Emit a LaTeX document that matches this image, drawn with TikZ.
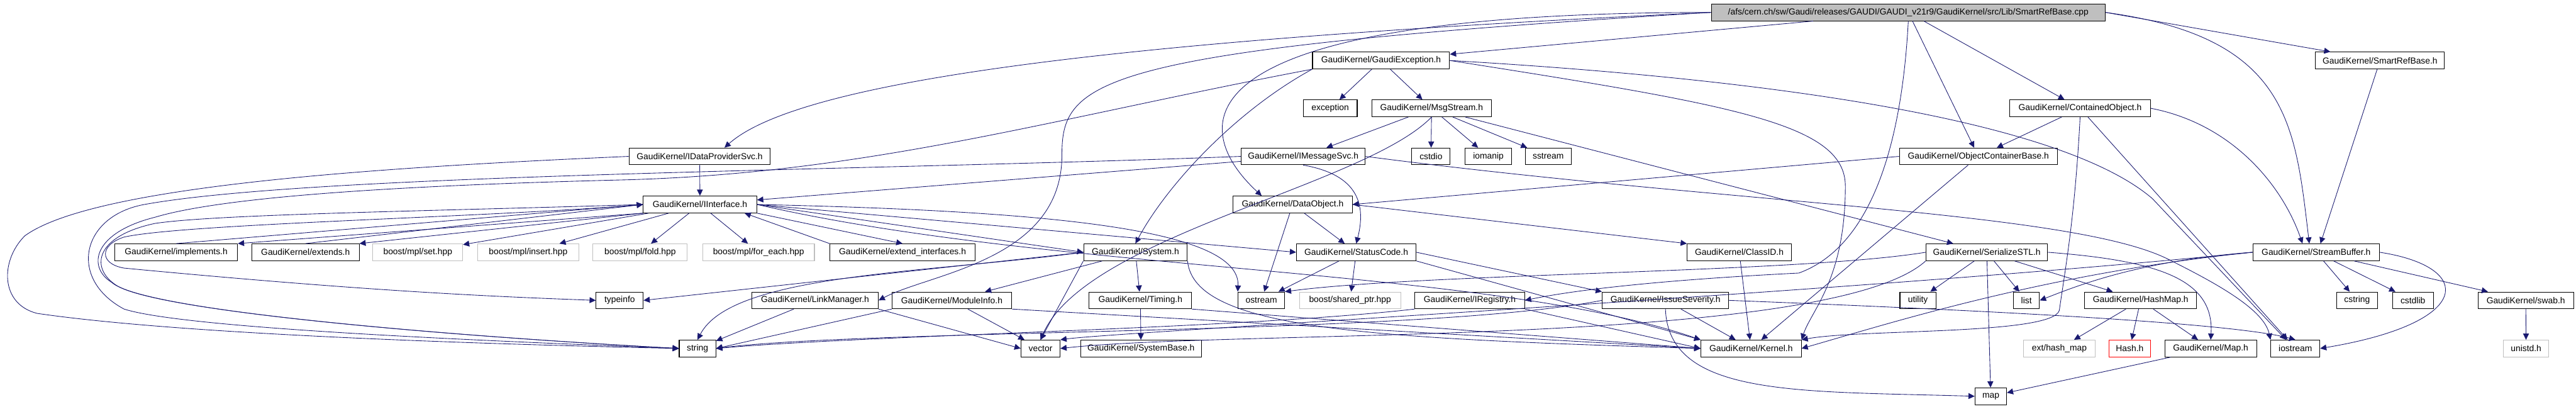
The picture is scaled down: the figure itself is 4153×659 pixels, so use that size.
\documentclass[tikz,border=0pt]{standalone}
\usepackage{fontspec}
\setmainfont{Liberation Sans}
\usetikzlibrary{arrows.meta}

\definecolor{edgeblue}{RGB}{25,25,112}
\definecolor{boxgray}{RGB}{191,191,191}

\tikzset{
  hdr/.style={draw=black, line width=0.6pt, rectangle, inner sep=0pt,
    minimum height=0.54cm, font=\fontsize{8}{9}\selectfont},
  syshdr/.style={hdr, draw=boxgray},
  lost/.style={hdr, draw=red},
  srcfile/.style={hdr, fill=boxgray},
  dep/.style={draw=edgeblue, line width=0.5pt, -{Triangle[length=0.2cm,width=0.19cm]}}
}

\begin{document}
\begin{tikzpicture}[x=0.02cm, y=-0.02cm]
\useasboundingbox (0,0) rectangle (4153,659);

% row 0 and 1
\node[srcfile, minimum width=12.70cm] (root) at (3076.5,20) {/afs/cern.ch/sw/Gaudi/releases/GAUDI/GAUDI\_v21r9/GaudiKernel/src/Lib/SmartRefBase.cpp};
\node[hdr, minimum width=4.42cm] (gexc) at (2226.5,97.5) {GaudiKernel/GaudiException.h};
\node[hdr, minimum width=4.16cm] (srbh) at (3837,97.5) {GaudiKernel/SmartRefBase.h};

% row 2
\node[hdr, minimum width=1.74cm] (exception) at (2144.5,174.5) {exception};
\node[hdr, minimum width=3.84cm] (msgs) at (2308,174.5) {GaudiKernel/MsgStream.h};
\node[hdr, minimum width=4.54cm] (cobj) at (3353.5,174.5) {GaudiKernel/ContainedObject.h};

% row 3
\node[hdr, minimum width=4.56cm] (idps) at (1128,252) {GaudiKernel/IDataProviderSvc.h};
\node[hdr, minimum width=4.00cm] (imsg) at (2101,252) {GaudiKernel/IMessageSvc.h};
\node[hdr, minimum width=1.24cm] (cstdio) at (2307,252) {cstdio};
\node[hdr, minimum width=1.50cm] (iomanip) at (2399.5,252) {iomanip};
\node[hdr, minimum width=1.48cm] (sstream) at (2496,252) {sstream};
\node[hdr, minimum width=5.10cm] (ocb) at (3189.5,252) {GaudiKernel/ObjectContainerBase.h};

% row 4
\node[hdr, minimum width=3.66cm] (iif) at (1128.5,329.5) {GaudiKernel/IInterface.h};
\node[hdr, minimum width=3.84cm] (dobj) at (2084,329.5) {GaudiKernel/DataObject.h};

% row 5
\node[hdr, minimum width=3.96cm] (impl) at (284,406.5) {GaudiKernel/implements.h};
\node[hdr, minimum width=3.46cm] (ext) at (492.5,406.5) {GaudiKernel/extends.h};
\node[syshdr, minimum width=2.90cm] (mset) at (673.5,406.5) {boost/mpl/set.hpp};
\node[syshdr, minimum width=3.26cm] (mins) at (851.5,406.5) {boost/mpl/insert.hpp};
\node[syshdr, minimum width=3.04cm] (mfold) at (1032,406.5) {boost/mpl/fold.hpp};
\node[syshdr, minimum width=3.60cm] (mfe) at (1223,406.5) {boost/mpl/for\_each.hpp};
\node[hdr, minimum width=4.68cm] (extif) at (1455,406.5) {GaudiKernel/extend\_interfaces.h};
\node[hdr, minimum width=3.34cm] (sys) at (1830.5,406.5) {GaudiKernel/System.h};
\node[hdr, minimum width=3.86cm] (sc) at (2186.5,406.5) {GaudiKernel/StatusCode.h};
\node[hdr, minimum width=3.36cm] (cid) at (2804,406.5) {GaudiKernel/ClassID.h};
\node[hdr, minimum width=3.92cm] (sstl) at (3203,406.5) {GaudiKernel/SerializeSTL.h};
\node[hdr, minimum width=4.08cm] (sbuf) at (3734,406.5) {GaudiKernel/StreamBuffer.h};

% row 6
\node[hdr, minimum width=1.52cm] (tinfo) at (999,484) {typeinfo};
\node[hdr, minimum width=4.08cm] (lnk) at (1314,484) {GaudiKernel/LinkManager.h};
\node[hdr, minimum width=3.86cm] (minfo) at (1534.5,484) {GaudiKernel/ModuleInfo.h};
\node[hdr, minimum width=3.30cm] (timing) at (1838.5,484) {GaudiKernel/Timing.h};
\node[hdr, minimum width=1.50cm] (ostr) at (2033.5,484) {ostream};
\node[syshdr, minimum width=3.26cm] (shp) at (2176.5,484) {boost/shared\_ptr.hpp};
\node[hdr, minimum width=3.54cm] (ireg) at (2369.5,484) {GaudiKernel/IRegistry.h};
\node[hdr, minimum width=4.08cm] (isev) at (2685,484) {GaudiKernel/IssueSeverity.h};
\node[hdr, minimum width=1.16cm] (util) at (3092,484) {utility};
\node[hdr, minimum width=0.84cm] (lst) at (3267,484) {list};
\node[hdr, minimum width=3.60cm] (hmap) at (3451,484) {GaudiKernel/HashMap.h};
\node[hdr, minimum width=1.32cm] (cstr) at (3800,484) {cstring};
\node[hdr, minimum width=1.32cm] (cstdl) at (3890,484) {cstdlib};
\node[hdr, minimum width=3.08cm] (swab) at (4072,484) {GaudiKernel/swab.h};

% row 7 and 8
\node[hdr, minimum width=1.18cm] (str) at (1124.5,561.5) {string};
\node[hdr, minimum width=1.26cm] (vec) at (1677.5,561.5) {vector};
\node[hdr, minimum width=3.90cm] (sysb) at (1839.5,561.5) {GaudiKernel/SystemBase.h};
\node[hdr, minimum width=3.24cm] (kern) at (2823,561.5) {GaudiKernel/Kernel.h};
\node[syshdr, minimum width=2.32cm] (hmext) at (3320,561.5) {ext/hash\_map};
\node[lost, minimum width=1.34cm] (hash) at (3433.5,561.5) {Hash.h};
\node[hdr, minimum width=2.96cm] (mapg) at (3564,561.5) {GaudiKernel/Map.h};
\node[hdr, minimum width=1.58cm] (iostr) at (3700.5,561.5) {iostream};
\node[syshdr, minimum width=1.46cm] (unistd) at (4072.5,561.5) {unistd.h};
\node[hdr, minimum width=1.02cm] (mapc) at (3209.5,638.5) {map};

% the source file
\draw[dep] (root) -- (gexc);
\draw[dep] (root.west) .. controls (1900,60) and (1300,120) .. ([xshift=0.8cm]idps.north);
\draw[dep] (root.west) .. controls (1850,20) and (1930,220) .. ([xshift=-1cm]dobj.north);
\draw[dep] (root.west) .. controls (1760,80) and (1712,130) .. (1712,250)
  .. controls (1712,420) and (1500,440) .. (lnk.east);
\draw[dep] (root) -- (ocb);
\draw[dep] (root) -- (cobj);
\draw[dep] (root.south) .. controls (3065,250) and (3010,400) .. (2900,440)
  .. controls (2700,450) and (2550,465) .. (ireg.east);
\draw[dep] (root.east) -- (srbh);
\draw[dep] (root.east) .. controls (3690,60) and (3700,200) .. ([xshift=-0.22cm]sbuf.north);

% GaudiException.h
\draw[dep] (gexc) -- (exception);
\draw[dep] (gexc) -- (msgs);
\draw[dep] (gexc.south west) .. controls (1990,180) and (1880,300) .. (sys.north);
\draw[dep] (gexc.south west) .. controls (1700,190) and (1400,280) .. (1000,290)
  .. controls (600,300) and (350,320) .. (250,350)
  .. controls (150,375) and (140,430) .. (180,455)
  .. controls (230,500) and (700,540) .. (str.west);
\draw[dep] (gexc.east) .. controls (2800,170) and (2975,200) .. (2975,300)
  .. controls (2975,450) and (2920,500) .. (kern.north east);
\draw[dep] (gexc.east) .. controls (2900,130) and (3330,200) .. (3470,320)
  -- ([xshift=-0.3cm]iostr.north);

% MsgStream.h and IMessageSvc.h
\draw[dep] (msgs) -- (imsg);
\draw[dep] (msgs) -- (cstdio);
\draw[dep] (msgs) -- (iomanip);
\draw[dep] (msgs) -- (sstream);
\draw[dep] (msgs) -- (sstl);
\draw[dep] (msgs.south) .. controls (2200,300) and (1750,380) .. (vec.north);
\draw[dep] (imsg) -- (iif);
\draw[dep] (imsg.south) .. controls (2180,280) and (2205,320) .. (sc.north);
\draw[dep] (imsg.west) .. controls (1400,275) and (500,280) .. (230,330)
  .. controls (130,350) and (110,450) .. (200,498)
  .. controls (300,530) and (800,550) .. (str.west);
\draw[dep] (imsg.east) .. controls (2800,330) and (3350,340) .. (3500,420)
  .. controls (3580,460) and (3650,500) .. (iostr.north west);

% IDataProviderSvc.h
\draw[dep] (idps) -- (iif);
\draw[dep] (idps.west) .. controls (600,270) and (150,300) .. (40,380)
  .. controls (0,420) and (0,490) .. (60,505)
  .. controls (300,540) and (800,555) .. (str.west);

% IInterface.h
\draw[dep] (iif.south west) -- (impl.north east);
\draw[dep] (impl.north) -- (iif.west);
\draw[dep] (iif.south west) -- (ext.north east);
\draw[dep] (ext.north) -- (iif.west);
\draw[dep] (iif) -- (mset);
\draw[dep] (iif) -- (mins);
\draw[dep] (iif) -- (mfold);
\draw[dep] (iif) -- (mfe);
\draw[dep] (iif.south east) -- (extif.north);
\draw[dep] (extif.north west) -- ([xshift=-0.4cm]iif.south east);
\draw[dep] (iif.east) -- (sys.west);
\draw[dep] (iif.east) -- (sc.west);
\draw[dep] (iif.east) .. controls (1700,340) and (2000,370) .. (ostr.north west);
\draw[dep] (iif.east) .. controls (1700,440) and (2400,430) .. (kern.north west);
\draw[dep] (iif.west) .. controls (700,340) and (350,345) .. (250,360)
  .. controls (155,380) and (145,430) .. (185,458)
  .. controls (240,500) and (700,540) .. (str.west);
\draw[dep] (iif.west) .. controls (800,350) and (300,360) .. (200,382)
  .. controls (160,395) and (160,425) .. (200,432)
  .. controls (600,470) and (800,478) .. (tinfo.west);

% DataObject.h and StatusCode.h
\draw[dep] (dobj.east) -- (cid.north west);
\draw[dep] (dobj) -- (sc);
\draw[dep] (dobj) -- (ostr);
\draw[dep] (sc) -- (shp);
\draw[dep] (sc.east) -- (isev.north west);
\draw[dep] (sc) -- (ostr);
\draw[dep] (sc.south east) -- (kern.north west);

% System.h and its friends
\draw[dep] (sys) -- (minfo);
\draw[dep] (sys) -- (timing);
\draw[dep] (sys.south west) -- (vec.north);
\draw[dep] (sys.south east) .. controls (1925,530) and (2200,545) .. (kern.west);
\draw[dep] (sys.west) .. controls (1500,440) and (1180,440) .. (str.north);
\draw[dep] (sys.west) -- (tinfo.east);
\draw[dep] (minfo) -- (vec);
\draw[dep] (minfo.south east) -- (kern.west);
\draw[dep] (minfo.south west) -- (str.east);
\draw[dep] (lnk) -- (str);
\draw[dep] (lnk.south east) -- (vec.west);
\draw[dep] (timing) -- (sysb);
\draw[dep] (timing.south east) -- (kern.west);

% IssueSeverity.h, IRegistry.h, ClassID.h
\draw[dep] (isev) -- (kern);
\draw[dep] (isev.south) .. controls (2690,640) and (2900,630) .. (mapc.west);
\draw[dep] (isev.east) .. controls (3200,500) and (3600,520) .. (iostr.north);
\draw[dep] (isev.west) .. controls (2300,540) and (1400,530) .. (str.east);
\draw[dep] (ireg.south east) -- (kern.west);
\draw[dep] (ireg.south west) .. controls (2000,530) and (1400,540) .. (str.east);
\draw[dep] (cid) -- (kern);

% SerializeSTL.h and HashMap.h
\draw[dep] (sstl) -- (util);
\draw[dep] (sstl) -- (lst);
\draw[dep] (sstl) -- (mapc);
\draw[dep] (sstl) -- (hmap);
\draw[dep] (sstl.west) .. controls (2900,440) and (2300,440) .. (ostr.north east);
\draw[dep] (sstl.south west) .. controls (2950,560) and (2000,530) .. (vec.east);
\draw[dep] (sstl.east) .. controls (3480,420) and (3570,450) .. (mapg.north);
\draw[dep] (hmap) -- (hmext);
\draw[dep] (hmap) -- (hash);
\draw[dep] (hmap) -- (mapg);
\draw[dep] (mapg) -- (mapc);

% StreamBuffer.h
\draw[dep] (sbuf) -- (cstr);
\draw[dep] (sbuf) -- (cstdl);
\draw[dep] (sbuf) -- (swab);
\draw[dep] (sbuf.east) .. controls (3990,430) and (3990,520) .. (iostr.east);
\draw[dep] (sbuf.west) .. controls (3450,420) and (3350,460) .. (lst.east);
\draw[dep] (sbuf.west) .. controls (3300,440) and (3050,520) .. (kern.east);
\draw[dep] (sbuf.west) .. controls (3000,470) and (1800,535) .. (vec.north east);
\draw[dep] (swab) -- (unistd);
\draw[dep] (srbh) -- ([xshift=0.14cm]sbuf.north);

% containers
\draw[dep] (cobj) -- (ocb);
\draw[dep] (cobj.east) .. controls (3600,200) and (3680,300) .. ([xshift=-0.44cm]sbuf.north);
\draw[dep] (cobj.south) .. controls (3345,350) and (3330,430) .. (3320,500)
  .. controls (3310,540) and (3000,530) .. (kern.north east);
\draw[dep] (cobj) -- (iostr);
\draw[dep] (ocb.west) -- (dobj.east);
\draw[dep] (ocb) -- (kern);
\end{tikzpicture}
\end{document}
